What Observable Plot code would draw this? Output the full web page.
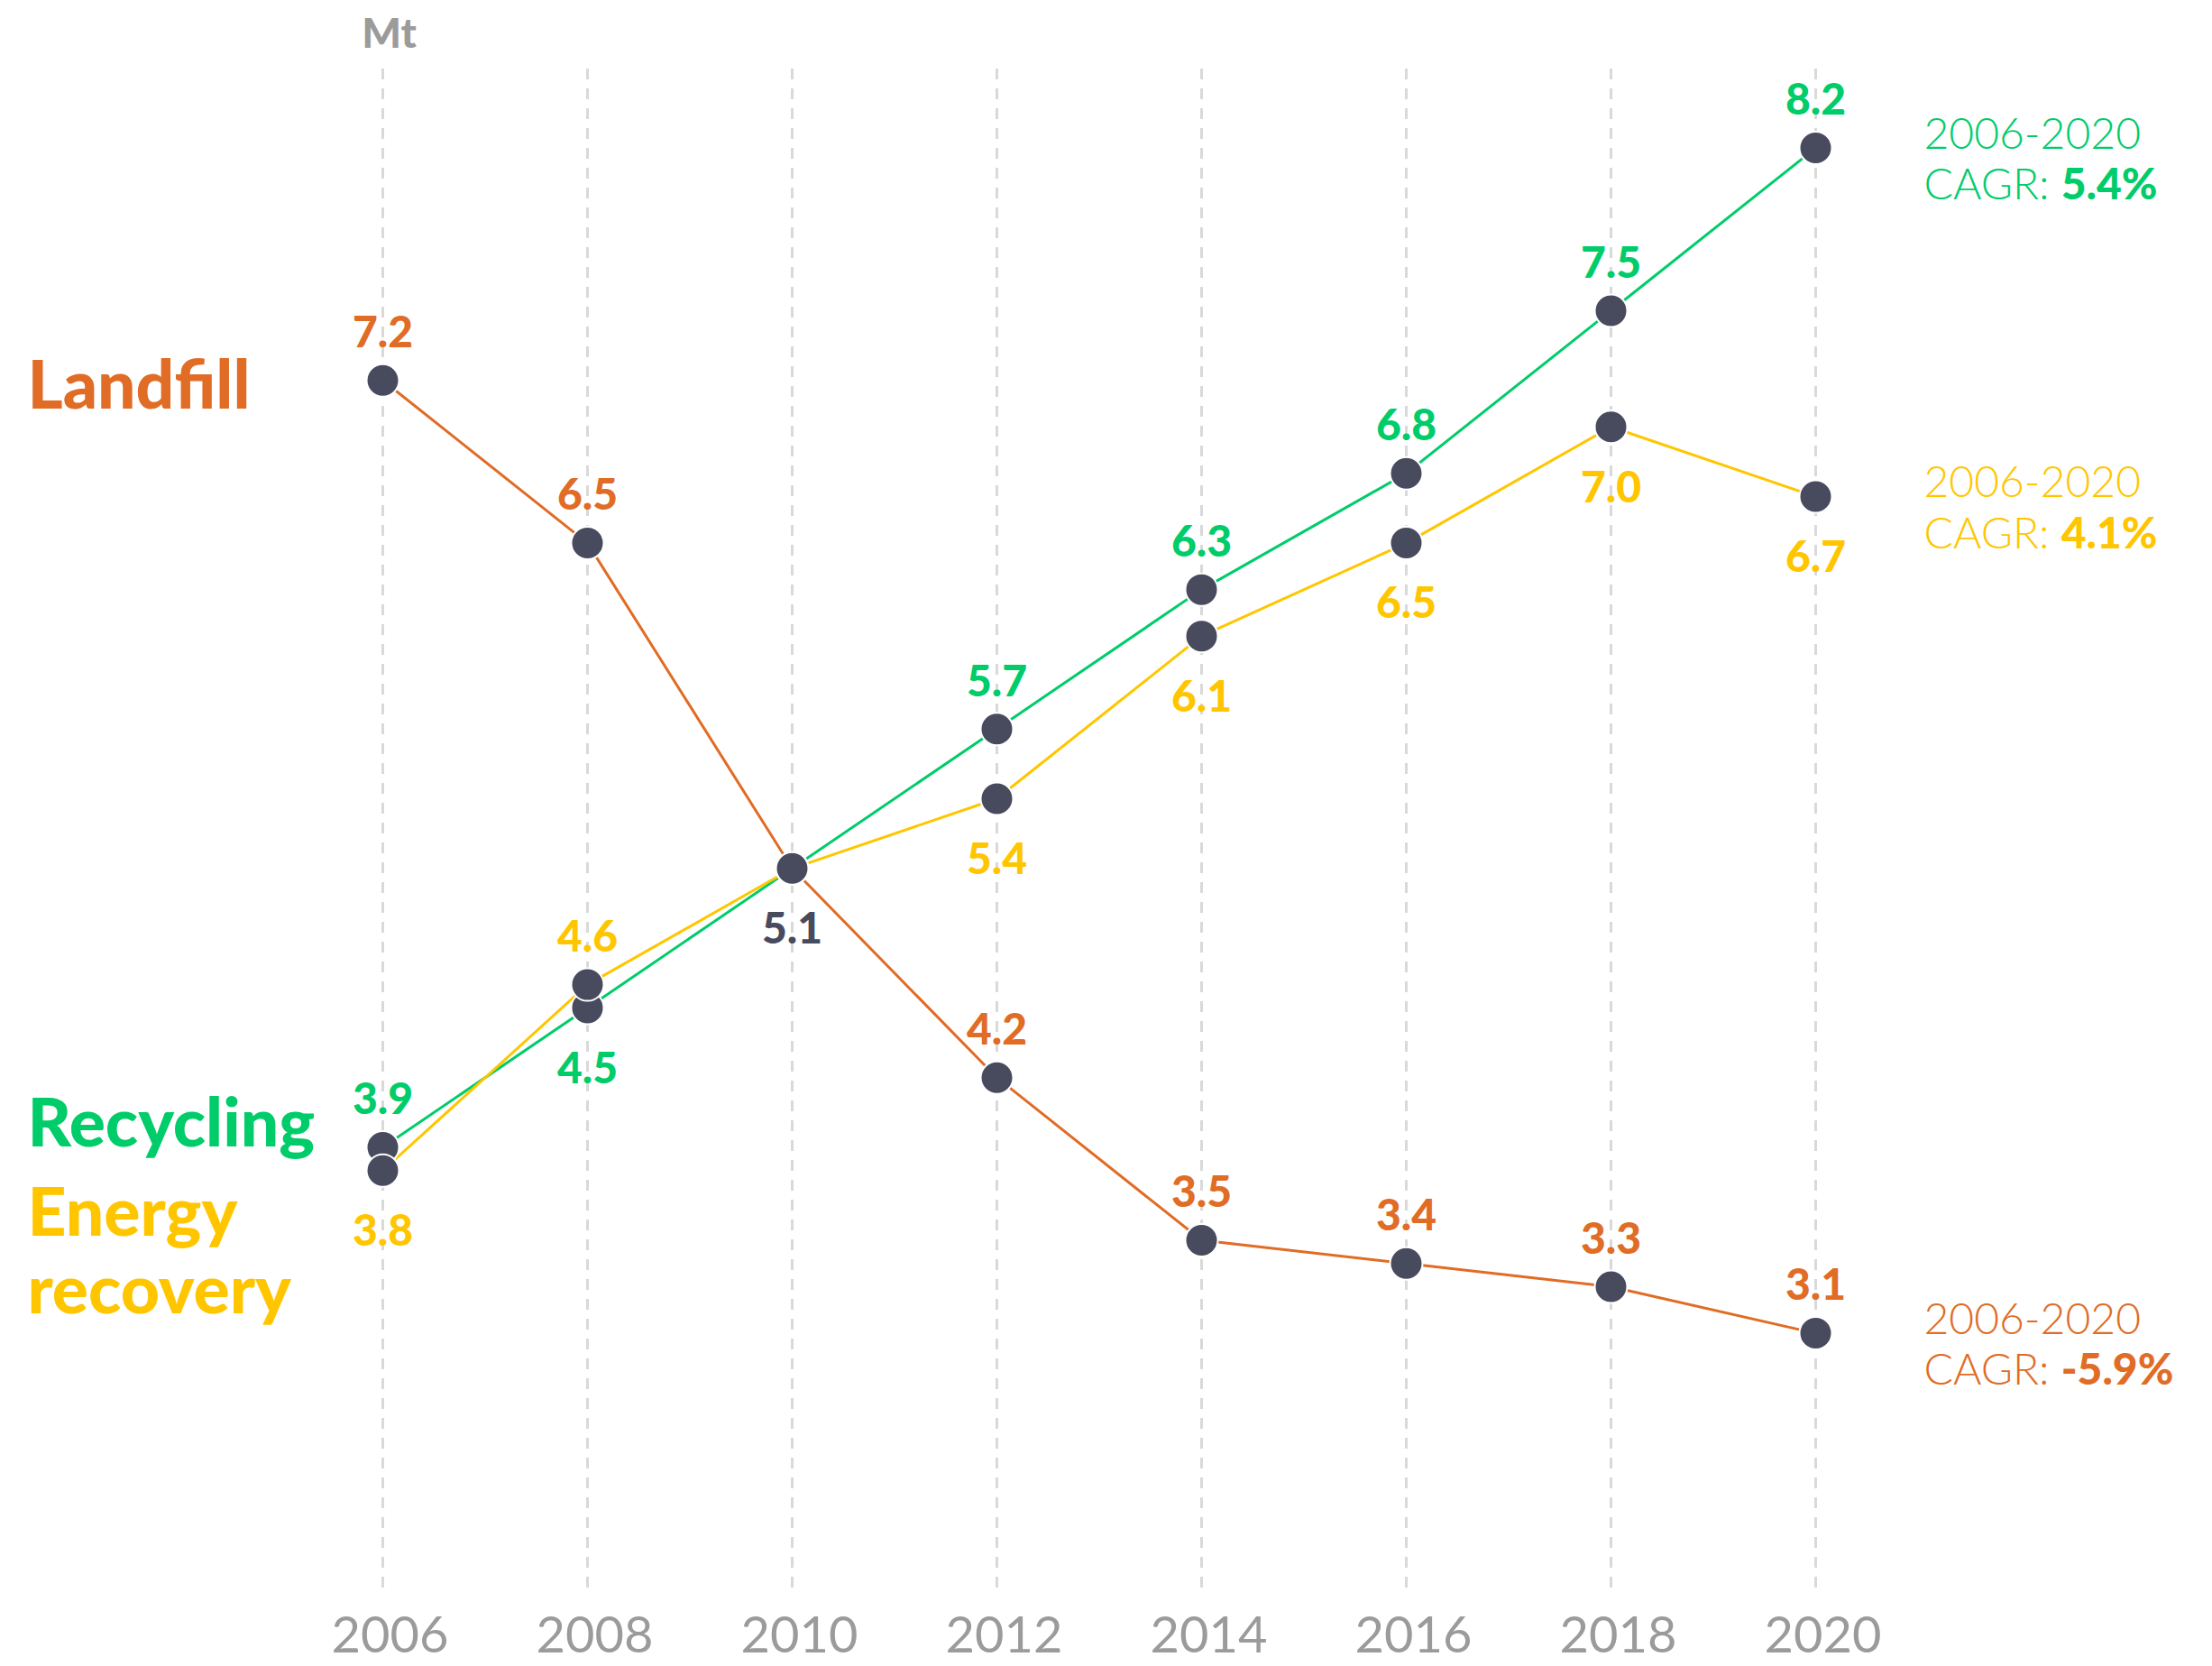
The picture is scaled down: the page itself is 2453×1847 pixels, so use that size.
<!DOCTYPE html>
<html>
<head>
<meta charset="utf-8">
<script src="https://cdn.jsdelivr.net/npm/d3@7"></script>
<script src="https://cdn.jsdelivr.net/npm/@observablehq/plot@0.6"></script>
<style>
  html, body { margin: 0; padding: 0; background: #fff; }
</style>
</head>
<body>
<div id="chart"></div>
<script>
// ---- data ----
const years = [2006, 2008, 2010, 2012, 2014, 2016, 2018, 2020];
const seriesNames = ["Landfill", "Recycling", "Energy recovery"];
const landfill  = [7.2, 6.5, 5.1, 4.2, 3.5, 3.4, 3.3, 3.1];
const recycling = [3.9, 4.5, 5.1, 5.7, 6.3, 6.8, 7.5, 8.2];
const energy    = [3.8, 4.6, 5.1, 5.4, 6.1, 6.5, 7.0, 6.7];
// where each value label sits relative to its point
const landfillLabelPos  = ["above", "above", "shared", "above", "above", "above", "above", "above"];
const recyclingLabelPos = ["above", "below", "none", "above", "above", "above", "above", "above"];
const energyLabelPos    = ["below", "above", "none", "below", "below", "below", "below", "below"];
const cagrPeriod = "2006-2020";
const cagrValues = ["-5.9%", "5.4%", "4.1%"];
const unitLabel = "Mt";

// ---- styles ----
const seriesColors = ["#E06C25", "#00CC6A", "#FFC600"];
const dotColor = "#484A5E";
const gray = "#9B9B9B";

const seriesValues = [landfill, recycling, energy];
const seriesPos = [landfillLabelPos, recyclingLabelPos, energyLabelPos];

const rows = [];
seriesNames.forEach((name, s) => {
  years.forEach((year, i) => {
    rows.push({series: name, color: seriesColors[s], year, value: seriesValues[s][i], pos: seriesPos[s][i]});
  });
});
const labelRows = rows.filter(d => d.pos !== "none");
const above = labelRows.filter(d => d.pos === "above");
const below = labelRows.filter(d => d.pos === "below" || d.pos === "shared");

const fmt = d3.format(".1f");
const lastYear = years[years.length - 1];

const cagrRows = seriesNames.map((name, s) => ({
  color: seriesColors[s],
  value: seriesValues[s][years.length - 1],
  text: `${cagrPeriod}\nCAGR: ${cagrValues[s]}`
}));

const plot = Plot.plot({
  width: 2453,
  height: 1847,
  marginLeft: 424,
  marginRight: 440,
  marginTop: 76,
  marginBottom: 86,
  style: {fontFamily: "Lato, 'Open Sans', sans-serif", background: "#fff"},
  x: {type: "linear", domain: [years[0], lastYear], axis: null},
  y: {domain: [2, 8.54], axis: null},
  marks: [
    Plot.ruleX(years, {stroke: "#D9D9D9", strokeWidth: 3, strokeDasharray: "12,10"}),
    ...seriesNames.map((name, s) =>
      Plot.line(rows.filter(d => d.series === name), {x: "year", y: "value", stroke: seriesColors[s], strokeWidth: 3})
    ),
    Plot.dot(rows, {x: "year", y: "value", r: 18, fill: dotColor, stroke: "#fff", strokeWidth: 2}),
    Plot.text(above, {x: "year", y: "value", text: d => fmt(d.value), dy: -52, lineAnchor: "middle",
      fill: d => d.color, fontSize: 48, fontWeight: 900}),
    Plot.text(below, {x: "year", y: "value", text: d => fmt(d.value), dy: 68, lineAnchor: "middle",
      fill: d => d.pos === "shared" ? dotColor : d.color, fontSize: 48, fontWeight: 900}),
    // series names on the left
    Plot.text([seriesNames[0]], {x: years[0], y: landfill[0], text: d => d, dx: -394, dy: 7, textAnchor: "start",
      lineAnchor: "middle", fontSize: 75, fontWeight: 900, fill: seriesColors[0]}),
    Plot.text([seriesNames[1]], {x: years[0], y: recycling[0], text: d => d, dx: -394, dy: -25, textAnchor: "start",
      lineAnchor: "middle", fontSize: 75, fontWeight: 900, fill: seriesColors[1]}),
    Plot.text([seriesNames[2]], {x: years[0], y: energy[0], text: d => d.replace(" ", "\n"), dx: -394, dy: 88,
      textAnchor: "start", lineAnchor: "middle", lineHeight: 1.15, fontSize: 75, fontWeight: 900, fill: seriesColors[2]}),
    // CAGR annotations on the right
    Plot.text(cagrRows, {x: lastYear, y: "value", text: "text", dx: 120, dy: 11, textAnchor: "start",
      lineAnchor: "middle", lineHeight: 1.17, fontSize: 48, fontWeight: 300, fill: d => d.color}),
    // unit
    Plot.text([unitLabel], {x: years[0], frameAnchor: "top", text: d => d, lineAnchor: "bottom", dy: -24, dx: 7,
      fontSize: 46, fontWeight: 900, fill: gray}),
    Plot.axisX({ticks: years, tickFormat: d => String(d), tickSize: 0, tickPadding: 31, dx: 8, label: null,
      fontSize: 56, fill: gray, fontWeight: 400})
  ]
});

// bold the percentage in the CAGR annotations
const svgns = "http://www.w3.org/2000/svg";
plot.querySelectorAll("text").forEach(t => {
  const spans = t.querySelectorAll("tspan");
  if (!spans.length) return;
  const last = spans[spans.length - 1];
  const s = last.textContent;
  if (!s.startsWith("CAGR: ")) return;
  const idx = s.indexOf(": ") + 2;
  last.textContent = s.slice(0, idx);
  const b = document.createElementNS(svgns, "tspan");
  b.setAttribute("font-weight", "900");
  b.textContent = s.slice(idx);
  last.appendChild(b);
});

document.getElementById("chart").appendChild(plot);
</script>
</body>
</html>
